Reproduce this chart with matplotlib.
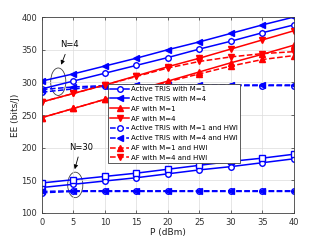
import matplotlib
matplotlib.use("Agg")
import matplotlib.pyplot as plt
from matplotlib.patches import Ellipse

P = [0, 5, 10, 15, 20, 25, 30, 35, 40]

# N = 4
tris_m1 = [290, 302, 314, 326, 338, 351, 363, 376, 388]
tris_m4 = [302, 313, 325, 337, 350, 362, 375, 388, 400]
af_m1 = [246, 260, 274, 288, 302, 316, 330, 343, 357]
af_m4 = [270, 283, 296, 310, 324, 337, 351, 365, 379]
tris_m1_hwi = [285, 290, 294, 295, 295, 295, 295, 295, 295]
tris_m4_hwi = [289, 293, 295, 296, 296, 296, 296, 296, 296]
af_m1_hwi = [246, 260, 274, 288, 301, 313, 325, 335, 341]
af_m4_hwi = [270, 283, 296, 309, 322, 332, 339, 344, 347]

# N = 30
tris_m1_n30 = [139, 144, 149, 154, 160, 166, 171, 177, 183]
tris_m4_n30 = [146, 151, 156, 161, 167, 173, 179, 184, 190]
tris_m1_hwi_n30 = [131, 133, 133, 133, 133, 133, 133, 133, 133]
tris_m4_hwi_n30 = [133, 134, 134, 134, 134, 134, 134, 134, 134]

labels = ["Active TRIS with M=1", "Active TRIS with M=4", "AF with M=1", "AF with M=4",
          "Active TRIS with M=1 and HWI", "Active TRIS with M=4 and HWI",
          "AF with M=1 and HWI", "AF with M=4 and HWI"]

fig = plt.figure(figsize=(3.27, 2.4), dpi=100)
ax = fig.add_axes([0.128, 0.1125, 0.771, 0.8165])

lw = 1.1
ms = 4
blue = "#0000ff"
red = "#ff0000"

def line(y, color, marker, ls, label=None, filled=True):
    ax.plot(P, y, color=color, marker=marker, ls=ls, lw=lw, ms=ms,
            mfc=color if filled else "white", mec=color, mew=1.0, label=label)

line(tris_m1, blue, "o", "-", labels[0], filled=False)
line(tris_m4, blue, "<", "-", labels[1])
line(af_m1, red, "^", "-", labels[2])
line(af_m4, red, "v", "-", labels[3])
line(tris_m1_hwi, blue, "o", "--", labels[4], filled=False)
line(tris_m4_hwi, blue, "<", "--", labels[5])
line(af_m1_hwi, red, "^", "--", labels[6])
line(af_m4_hwi, red, "v", "--", labels[7])

line(tris_m1_n30, blue, "o", "-", filled=False)
line(tris_m4_n30, blue, "s", "-", filled=False)
line(tris_m1_hwi_n30, blue, "o", "--", filled=False)
line(tris_m4_hwi_n30, blue, "<", "--")

ax.add_patch(Ellipse((2.6, 301), 2.4, 42, fill=False, ec="#404040", lw=0.6))
ax.add_patch(Ellipse((5.3, 143), 2.4, 39, fill=False, ec="#404040", lw=0.6))
ax.annotate("N=4", xy=(2.9, 323), xytext=(4.3, 358), fontsize=6, ha="center", va="center",
            arrowprops=dict(arrowstyle="-|>", color="black", lw=0.6, mutation_scale=6))
ax.annotate("N=30", xy=(5.1, 163), xytext=(6.2, 201), fontsize=6, ha="center", va="center",
            arrowprops=dict(arrowstyle="-|>", color="black", lw=0.6, mutation_scale=6))

ax.set_xlim(0, 40)
ax.set_ylim(100, 400)
ax.set_xticks(range(0, 41, 5))
ax.set_yticks(range(100, 401, 50))
ax.grid(True, color="#dcdcdc", lw=0.5)
ax.tick_params(direction="in", labelsize=6, length=2, width=0.5, top=True, right=True,
               colors="#303030")
for s in ax.spines.values():
    s.set_linewidth(0.6)
    s.set_color("#404040")
ax.set_xlabel("P (dBm)", fontsize=6.5, labelpad=1, color="#202020")
ax.set_ylabel("EE (bits/J)", fontsize=6.5, labelpad=1, color="#202020")

leg = ax.legend(loc="upper left", bbox_to_anchor=(0.262, 0.66), fontsize=5.0, frameon=True,
                fancybox=False, edgecolor="#404040", framealpha=1, handlelength=2.7,
                labelspacing=0.55, borderpad=0.35, handletextpad=0.3, borderaxespad=0)
leg.get_frame().set_linewidth(0.6)

fig.savefig("out.png", dpi=100)
